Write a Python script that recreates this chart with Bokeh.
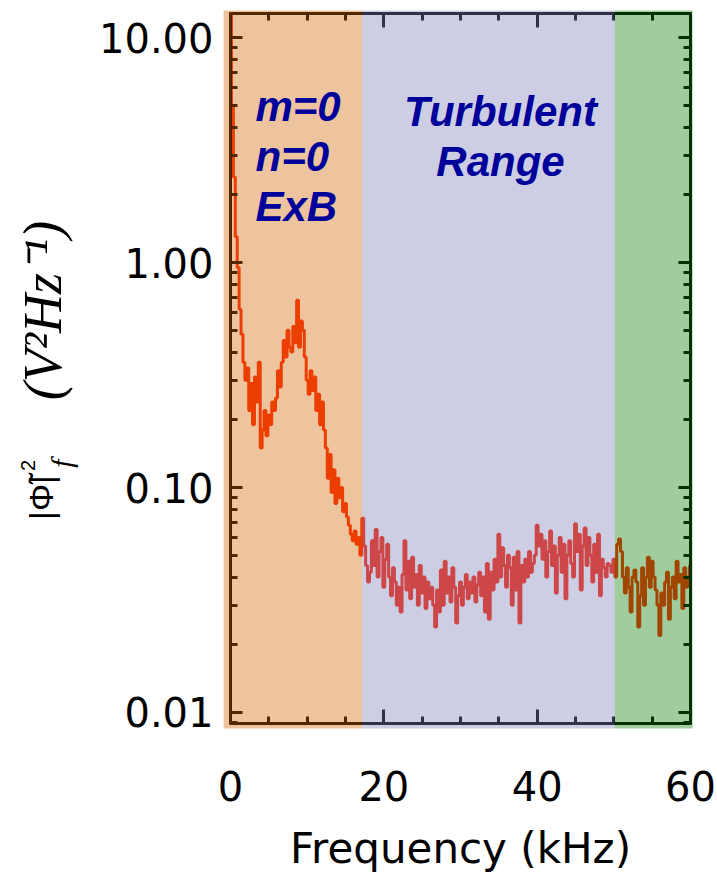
import numpy as np
from bokeh.plotting import figure
from bokeh.models import (BoxAnnotation, Label, LinearAxis, LogAxis, LogTicker,
                          SingleIntervalTicker, PrintfTickFormatter,
                          CustomJSTickFormatter, Range1d)
from bokeh.embed import file_html
from bokeh.resources import INLINE

# ---------------- data ----------------
freq_step_khz = 0.25
power = [
    12.6, 5.0, 2.4, 1.3, 0.95, 0.62, 0.48, 0.36, 0.30, 0.34, 0.22, 0.29,
    0.19, 0.31, 0.24, 0.36, 0.15, 0.18, 0.22, 0.17, 0.21, 0.19, 0.24, 0.22,
    0.25, 0.33, 0.28, 0.36, 0.45, 0.38, 0.50, 0.42, 0.40, 0.52, 0.44, 0.68,
    0.42, 0.55, 0.50, 0.38, 0.30, 0.26, 0.33, 0.27, 0.31, 0.22, 0.26, 0.19,
    0.24, 0.18, 0.15, 0.11, 0.14, 0.095, 0.12, 0.085, 0.11, 0.09, 0.10, 0.078,
    0.085, 0.074, 0.068, 0.062, 0.058, 0.064, 0.056, 0.060, 0.050, 0.073, 0.055, 0.045,
    0.038, 0.042, 0.058, 0.045, 0.065, 0.040, 0.052, 0.060, 0.036, 0.048, 0.056, 0.040,
    0.033, 0.044, 0.038, 0.030, 0.036, 0.028, 0.041, 0.058, 0.035, 0.047, 0.032, 0.049,
    0.036, 0.041, 0.030, 0.045, 0.034, 0.040, 0.029, 0.038, 0.032, 0.036, 0.030, 0.024,
    0.035, 0.028, 0.043, 0.030, 0.047, 0.034, 0.040, 0.031, 0.044, 0.036, 0.025, 0.033,
    0.038, 0.030, 0.036, 0.041, 0.032, 0.038, 0.034, 0.040, 0.031, 0.037, 0.042, 0.033,
    0.040, 0.028, 0.046, 0.026, 0.042, 0.035, 0.048, 0.038, 0.062, 0.040, 0.054, 0.045,
    0.036, 0.050, 0.044, 0.030, 0.049, 0.035, 0.052, 0.025, 0.045, 0.038, 0.048, 0.040,
    0.052, 0.042, 0.046, 0.050, 0.068, 0.055, 0.062, 0.048, 0.058, 0.040, 0.052, 0.064,
    0.045, 0.055, 0.034, 0.050, 0.060, 0.042, 0.056, 0.032, 0.050, 0.058, 0.046, 0.040,
    0.069, 0.052, 0.062, 0.035, 0.055, 0.066, 0.045, 0.060, 0.050, 0.038, 0.056, 0.042,
    0.062, 0.033, 0.048, 0.044, 0.040, 0.046, 0.045, 0.042, 0.048, 0.040, 0.056, 0.059,
    0.052, 0.040, 0.034, 0.044, 0.036, 0.028, 0.040, 0.043, 0.038, 0.024, 0.033, 0.044,
    0.030, 0.040, 0.049, 0.036, 0.047, 0.040, 0.035, 0.030, 0.022, 0.034, 0.030, 0.038,
    0.042, 0.026, 0.036, 0.040, 0.032, 0.047, 0.038, 0.041, 0.029, 0.044, 0.036, 0.040,
    0.045,
]
freq = np.arange(len(power)) * freq_step_khz

x_lo, x_hi = 0, 60            # kHz axis extent
x_major, x_minor_per = 20, 4  # 0,20,40,60 with minor every 5
y_lo, y_hi = 0.008935, 12.785 # log axis extent

# shaded frequency bands (kHz)
band_edges = [-0.9, 17.2, 50.1, 60.26]
band_colors = ["#D16806", "#7F7FB9", "#0B7C06"]
band_y = (0.00849, 13.2)
band_text = [["m=0", "n=0", "ExB"], ["Turbulent", "Range"]]

# ---------------- layout (pixels) ----------------
W, H = 717, 872
fl, fr, ft, fb = 230, 690, 13, 723   # axis box in canvas pixels
kx = (fr - fl) / (x_hi - x_lo)
xr = Range1d(x_lo - fl / kx, x_hi + (W - fr) / kx)
ly0, ly1 = np.log10(y_lo), np.log10(y_hi)
ky = (fb - ft) / (ly1 - ly0)
yr = Range1d(10 ** (ly0 - (H - fb) / ky), 10 ** (ly1 + ft / ky))

p = figure(width=W, height=H, x_range=xr, y_range=yr, y_axis_type="log",
           output_backend="svg", toolbar_location=None)
p.min_border = 0
p.min_border_left = p.min_border_right = p.min_border_top = p.min_border_bottom = 0
p.title.visible = False
p.grid.visible = False
p.outline_line_color = None
p.background_fill_color = "white"
p.border_fill_color = "white"

p.step(freq, power, mode="center", line_color="#FF2500", line_width=3)


def style_axis(ax, major_in, minor_in):
    ax.axis_line_width = 3
    ax.axis_line_color = "black"
    ax.major_tick_in = major_in
    ax.major_tick_out = 1
    ax.minor_tick_in = minor_in
    ax.minor_tick_out = 1
    ax.major_tick_line_width = 3
    ax.minor_tick_line_width = 3
    ax.major_tick_line_color = "black"
    ax.minor_tick_line_color = "black"


def xticker():
    return SingleIntervalTicker(interval=x_major, num_minor_ticks=x_minor_per)


def yticker():
    return LogTicker(num_minor_ticks=10)


xa = p.xaxis[0]
xa.ticker = xticker()
xa.fixed_location = y_lo
xa.bounds = (x_lo, x_hi)
style_axis(xa, 14, 7)
xa.major_label_text_font = "DejaVu Sans"
xa.major_label_text_font_size = "40px"
xa.major_label_text_color = "black"
xa.major_label_standoff = 46
xa.axis_label = "Frequency (kHz)"
xa.axis_label_text_font = "DejaVu Sans"
xa.axis_label_text_font_style = "normal"
xa.axis_label_text_font_size = "42px"
xa.axis_label_text_color = "black"
xa.axis_label_standoff = 20

ya = p.yaxis[0]
ya.ticker = yticker()
ya.formatter = PrintfTickFormatter(format="%.2f")
ya.fixed_location = x_lo
ya.bounds = (y_lo, y_hi)
style_axis(ya, 12, 7)
ya.major_label_text_font = "DejaVu Sans"
ya.major_label_text_font_size = "40px"
ya.major_label_text_color = "black"
ya.major_label_standoff = 16

blank = CustomJSTickFormatter(code="return ''")
top = LinearAxis(ticker=xticker(), formatter=blank, fixed_location=y_hi,
                 bounds=(x_lo, x_hi), major_label_text_font_size="1px",
                 major_label_standoff=0)
style_axis(top, 14, 7)
p.add_layout(top, "above")
right = LogAxis(ticker=yticker(), formatter=blank, fixed_location=x_hi,
                bounds=(y_lo, y_hi), major_label_text_font_size="1px",
                major_label_standoff=0)
style_axis(right, 12, 7)
p.add_layout(right, "right")

# translucent bands drawn over the line and the axes
for i, c in enumerate(band_colors):
    p.add_layout(BoxAnnotation(left=band_edges[i], right=band_edges[i + 1],
                               bottom=band_y[0], top=band_y[1], level="overlay",
                               fill_color=c, fill_alpha=0.39, line_color=None))

navy = "#00009A"
lab_font = dict(text_font="Liberation Sans", text_font_style="bold italic",
                text_font_size="42px", text_color=navy, level="overlay")
for k, t in enumerate(band_text[0]):
    p.add_layout(Label(x=255, y=766 - 50 * k, x_units="screen", y_units="screen", text=t,
                       text_align="left", text_baseline="alphabetic", **lab_font))
for k, t in enumerate(band_text[1]):
    p.add_layout(Label(x=500, y=761 - 50 * k, x_units="screen", y_units="screen", text=t,
                       text_align="center", text_baseline="alphabetic", **lab_font))

# y axis title built from pieces (rotated)
rot = np.pi / 2
p.add_layout(Label(x=42, y=562, x_units="screen", y_units="screen", text="(V²Hz⁻¹)",
                   angle=rot, text_align="center", text_baseline="middle",
                   text_font="Liberation Serif", text_font_style="italic",
                   text_font_size="54px", text_color="black"))
p.add_layout(Label(x=40, y=375, x_units="screen", y_units="screen", text="|Φ̃|",
                   angle=rot, text_align="center", text_baseline="middle",
                   text_font="Liberation Sans", text_font_size="34px", text_color="black"))
p.add_layout(Label(x=27, y=407, x_units="screen", y_units="screen", text="2",
                   angle=rot, text_align="center", text_baseline="middle",
                   text_font="Liberation Sans", text_font_size="20px", text_color="black"))
p.add_layout(Label(x=61, y=409, x_units="screen", y_units="screen", text="f",
                   angle=rot, text_align="center", text_baseline="middle",
                   text_font="Liberation Serif", text_font_style="italic",
                   text_font_size="30px", text_color="black"))

open("out.html", "w").write(file_html(p, INLINE))
